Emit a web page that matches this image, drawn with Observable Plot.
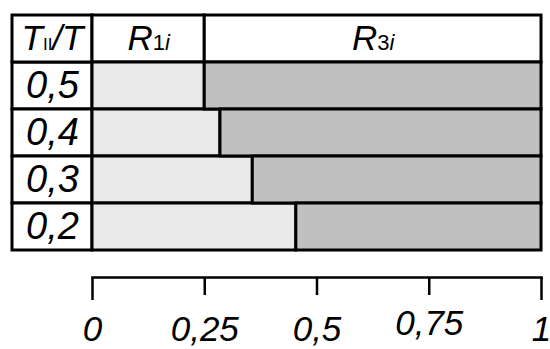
<!DOCTYPE html>
<html>
<head>
<meta charset="utf-8">
<script src="https://cdn.jsdelivr.net/npm/d3@7"></script>
<script src="https://cdn.jsdelivr.net/npm/@observablehq/plot@0.6"></script>
<style>
  html, body { margin: 0; padding: 0; background: #fff; }
  #chart svg { overflow: visible; }
</style>
</head>
<body>
<div id="chart"></div>
<script>
// ---- data ----
const rowLabels = ["0,5", "0,4", "0,3", "0,2"];        // T_II / T
const r1Share   = [0.25, 0.285, 0.357, 0.454];         // R_1i share (rest is R_3i)
const tickValues = [0, 0.25, 0.5, 0.75, 1];
const tickLabels = ["0", "0,25", "0,5", "0,75", "1"];
const headerSplit = 0.25;                               // R1i | R3i header divider

// ---- layout ----
const W = 550, H = 349;
const tableLeft = 12, plotLeft = 92, plotRight = 541, tableTop = 13, tableBottom = 252, axisY = 277;
const labelColStart = (tableLeft - plotLeft) / (plotRight - plotLeft);
const FONT = "'Liberation Sans', Arial, Helvetica, sans-serif";
const light = "#e9e9e9", dark = "#c0c0c0";

const HEAD = "head";
const rowOrder = [HEAD, ...rowLabels];
const rows = rowLabels.map((r, i) => ({row: r, r1: r1Share[i]}));
const headerCells = [
  {key: "TT", x: labelColStart / 2, x1: labelColStart, x2: 0},
  {key: "R1", x: headerSplit / 2, x1: 0, x2: headerSplit},
  {key: "R3", x: (headerSplit + 1) / 2, x1: headerSplit, x2: 1}
];
const richHeader = {
  TT: [["T", "italic", 35], ["II", "normal", 17], ["/T", "italic", 35]],
  R1: [["R", "italic", 35], ["1", "normal", 22], ["i", "italic", 22]],
  R3: [["R", "italic", 35], ["3", "normal", 22], ["i", "italic", 22]]
};
const sw = 3;

const chart = Plot.plot({
  width: W, height: H,
  marginLeft: plotLeft, marginRight: W - plotRight,
  marginTop: tableTop, marginBottom: H - axisY,
  x: {domain: [0, 1], axis: null},
  y: {type: "band", domain: rowOrder, range: [tableTop, tableBottom], padding: 0, axis: null},
  style: {fontFamily: FONT, background: "white", color: "black"},
  marks: [
    Plot.barX(rowLabels, {x1: () => labelColStart, x2: () => 0, y: d => d, fill: "white", stroke: "black", strokeWidth: sw}),
    Plot.barX(headerCells, {x1: "x1", x2: "x2", y: () => HEAD, fill: "white", stroke: "black", strokeWidth: sw}),
    Plot.barX(rows, {x1: () => 0, x2: "r1", y: "row", fill: light, stroke: "black", strokeWidth: sw}),
    Plot.barX(rows, {x1: "r1", x2: () => 1, y: "row", fill: dark, stroke: "black", strokeWidth: sw}),
    Plot.text(rowLabels, {x: () => labelColStart / 2, y: d => d, text: d => d, fontSize: 38, fontStyle: "italic", fill: "black"}),
    Plot.text(headerCells, {x: "x", y: () => HEAD, text: "key", fontSize: 35, fill: "black"}),
    Plot.frame({anchor: "bottom", stroke: "black", strokeWidth: 2.5}),
    Plot.axisX({ticks: tickValues.filter(v => v > 0 && v < 1), tickSize: 18, tickFormat: () => "", strokeWidth: 2.5, label: null}),
    Plot.axisX({ticks: tickValues.filter(v => v === 0 || v === 1), tickSize: 23, tickFormat: () => "", strokeWidth: 2.5, label: null}),
    Plot.text(tickValues.filter(v => v !== 0.75), {x: d => d, frameAnchor: "bottom", lineAnchor: "middle", dy: 52, text: d => tickLabels[tickValues.indexOf(d)], fontSize: 35, fontStyle: "italic", fill: "black"}),
    Plot.text(tickValues.filter(v => v === 0.75), {x: d => d, frameAnchor: "bottom", lineAnchor: "middle", dy: 46, text: d => tickLabels[tickValues.indexOf(d)], fontSize: 35, fontStyle: "italic", fill: "black"})
  ]
});

chart.querySelectorAll("text").forEach(t => {
  const spec = richHeader[t.textContent];
  if (!spec) return;
  while (t.firstChild) t.removeChild(t.firstChild);
  spec.forEach(([s, style, size]) => {
    const ts = document.createElementNS("http://www.w3.org/2000/svg", "tspan");
    ts.textContent = s;
    ts.setAttribute("font-style", style);
    ts.setAttribute("font-size", size);
    t.appendChild(ts);
  });
});

document.getElementById("chart").appendChild(chart);
</script>
</body>
</html>
